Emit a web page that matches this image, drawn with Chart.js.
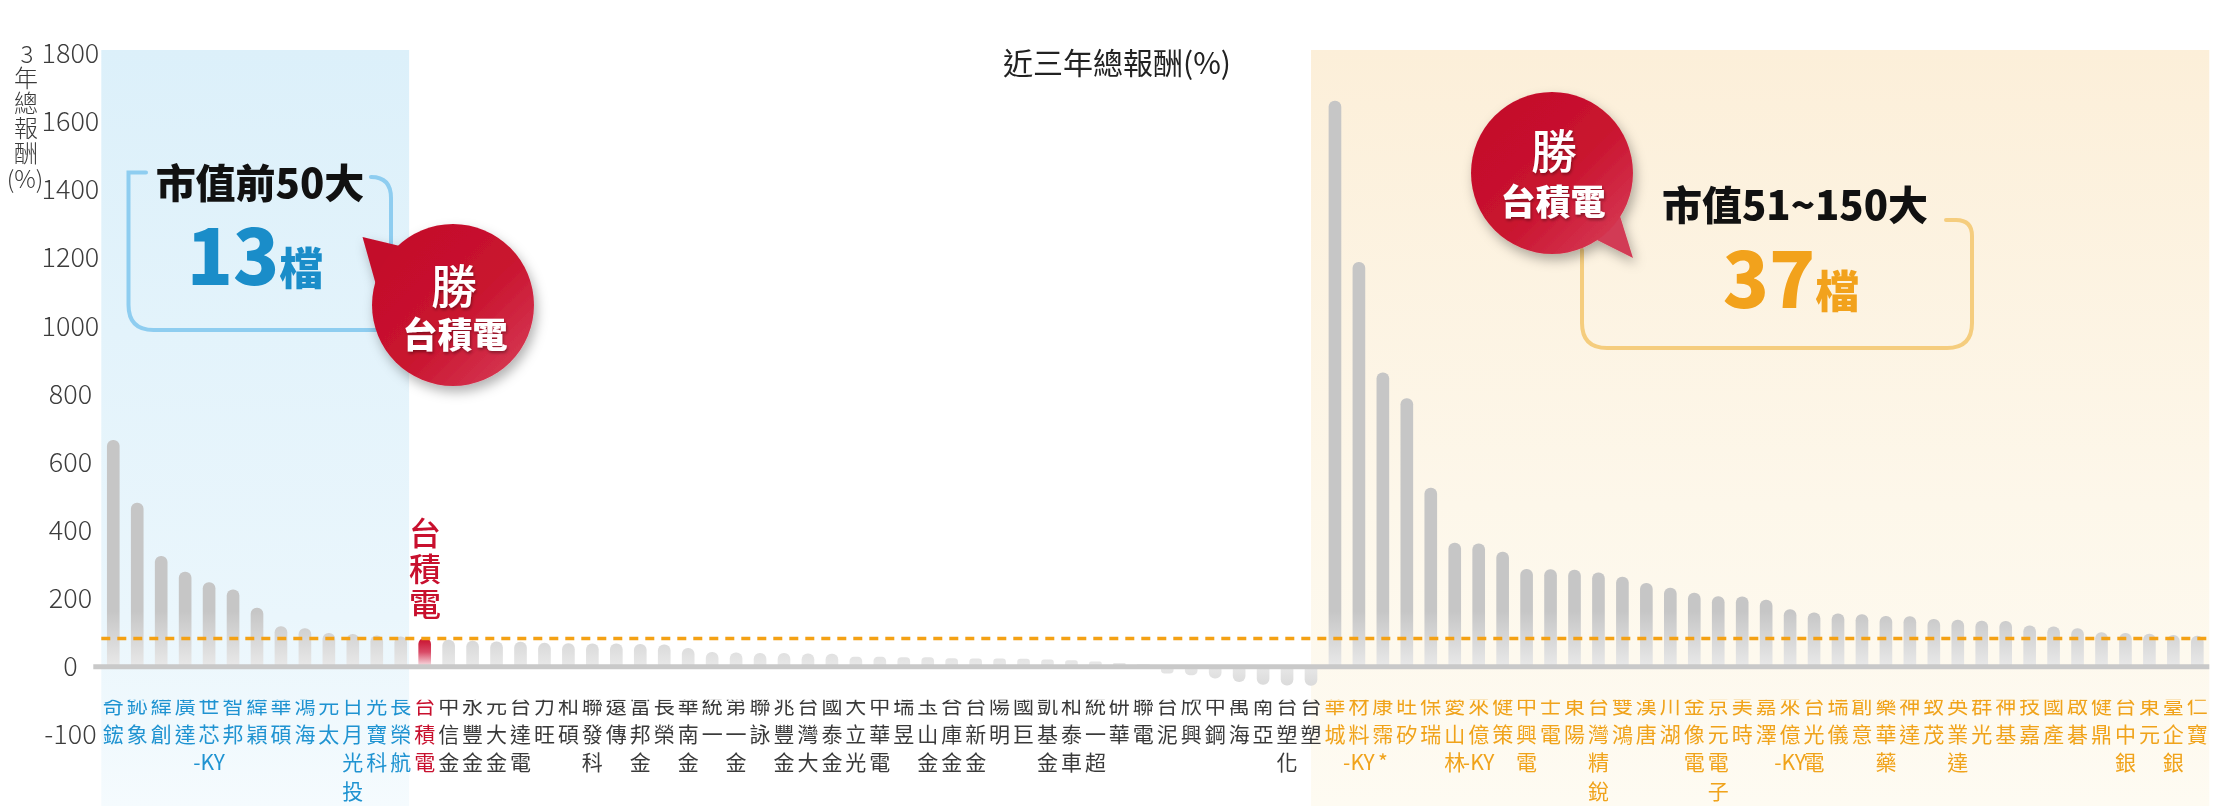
<!DOCTYPE html>
<html>
<head>
<meta charset="utf-8">
<script src="https://cdn.jsdelivr.net/npm/chart.js@4.4.1/dist/chart.umd.min.js"></script>
<style>
html,body{margin:0;padding:0;background:#fff;}
#wrap{position:relative;width:2224px;height:806px;overflow:hidden;}
#c{position:absolute;left:0;top:0;}
#ov{position:absolute;left:0;top:0;}
</style>
</head>
<body>
<div id="wrap">
<canvas id="c" width="2224" height="806"></canvas>
<svg id="ov" width="2224" height="806" viewBox="0 0 2224 806" font-family="'Noto Sans CJK TC','Noto Sans',sans-serif">
  <defs>
    <linearGradient id="rg" x1="0" y1="0" x2="1" y2="1">
      <stop offset="0" stop-color="#c20a2a"/>
      <stop offset="0.55" stop-color="#c9142f"/>
      <stop offset="1" stop-color="#d9415c"/>
    </linearGradient>
    <filter id="sh" x="-30%" y="-30%" width="160%" height="160%">
      <feDropShadow dx="3" dy="6" stdDeviation="6" flood-color="#000" flood-opacity="0.3"/>
    </filter>
    <filter id="ts" x="-20%" y="-20%" width="140%" height="140%">
      <feDropShadow dx="1" dy="2" stdDeviation="1.5" flood-color="#000" flood-opacity="0.35"/>
    </filter>
  </defs>

  <!-- y axis title -->
  <g fill="#3a3a3a" font-size="24" font-weight="300" text-anchor="middle" dominant-baseline="central">
    <text x="27" y="52">3</text>
    <text x="26" y="76">年</text>
    <text x="26" y="101">總</text>
    <text x="26" y="126">報</text>
    <text x="26" y="151">酬</text>
    <text x="25" y="177">(%)</text>
  </g>

  <!-- title -->
  <text x="1117" y="61" font-size="30" fill="#222" text-anchor="middle" dominant-baseline="central">近三年總報酬(%)</text>

  <!-- blue box -->
  <g fill="none" stroke="#8ecdf0" stroke-width="4" stroke-linecap="round">
    <path d="M146,172.5 L128.5,172.5 L128.5,305 Q128.5,330 153.5,330 L385,330"/>
    <path d="M371,177 Q391,177 391,198 L391,255"/>
  </g>
  <text x="260" y="181" font-size="40" font-weight="900" fill="#111" text-anchor="middle" dominant-baseline="central">市值前50大</text>
  <text x="255" y="285" fill="#1a8dc9" text-anchor="middle"><tspan font-size="76" font-weight="900">13</tspan><tspan font-size="44" font-weight="900">檔</tspan></text>

  <!-- bubble 1 -->
  <g filter="url(#sh)">
    <path d="M362.5,237 L404,247 L378,292 Z" fill="#c30d2c"/>
    <circle cx="453" cy="305" r="81" fill="url(#rg)"/>
  </g>
  <g fill="#fff" text-anchor="middle" dominant-baseline="central" filter="url(#ts)">
    <text x="454" y="283" font-size="46" font-weight="500">勝</text>
    <text x="455" y="332" font-size="35" font-weight="900">台積電</text>
  </g>

  <!-- orange box -->
  <g fill="none" stroke="#f5cd7e" stroke-width="4" stroke-linecap="round">
    <path d="M1582,250 L1582,323 Q1582,348 1607,348 L1947,348 Q1972,348 1972,323 L1972,236 Q1972,220 1956,220 L1946,220"/>
  </g>
  <text x="1795" y="203" font-size="40" font-weight="900" fill="#111" text-anchor="middle" dominant-baseline="central">市值51~150大</text>
  <text x="1791" y="308" fill="#f2a21c" text-anchor="middle"><tspan font-size="76" font-weight="900">37</tspan><tspan font-size="44" font-weight="900">檔</tspan></text>

  <!-- bubble 2 -->
  <g filter="url(#sh)">
    <path d="M1633,258 L1597,240 L1620,216 Z" fill="#d23a55"/>
    <circle cx="1552" cy="173" r="81" fill="url(#rg)"/>
  </g>
  <g fill="#fff" text-anchor="middle" dominant-baseline="central" filter="url(#ts)">
    <text x="1554" y="148" font-size="46" font-weight="500">勝</text>
    <text x="1553" y="199" font-size="35" font-weight="900">台積電</text>
  </g>

  <!-- TSMC vertical label -->
  <g fill="#c8102e" font-size="32" font-weight="500" text-anchor="middle" dominant-baseline="central">
    <text x="425" y="531">台</text>
    <text x="425" y="567">積</text>
    <text x="425" y="602">電</text>
  </g>
</svg>
</div>
<script>
// ---------------- DATA ----------------
// Top-50 market cap stocks that beat TSMC (blue)
const top50WinnerNames = ['奇鋐','鈊象','緯創','廣達','世芯-KY','智邦','緯穎','華碩','鴻海','元太','日月光投控','光寶科','長榮航'];
const top50WinnerReturns = [662, 478, 321, 275, 244, 223, 169, 115, 109, 95, 92, 88, 85];

// TSMC (red)
const tsmcName = '台積電';
const tsmcReturn = 80;

// Other top-50 stocks (gray)
const top50OtherNames = ['中信金','永豐金','元大金','台達電','力旺','和碩','聯發科','遠傳','富邦金','長榮','華南金','統一','第一金','聯詠','兆豐金','台灣大','國泰金','大立光','中華電','瑞昱','玉山金','合庫金','台新金','陽明','國巨','凱基金','和泰車','統一超','研華','聯電','台泥','欣興','中鋼','萬海','南亞','台塑化','台塑'];
const top50OtherReturns = [75, 72, 70, 69, 66, 65, 64, 64, 63, 61, 51, 39, 38, 36, 36, 35, 34, 25, 25, 24, 24, 21, 20, 20, 19, 17, 15, 11, 7, 3, -22, -27, -37, -47, -55, -57, -58];

// Market cap 51~150 stocks that beat TSMC (orange)
const mid100WinnerNames = ['華城','材料-KY','康霈*','旺矽','保瑞','愛山林','來億-KY','健策','中興電','士電','東陽','台灣精銳','雙鴻','漢唐','川湖','金像電','京元電子','美時','嘉澤','來億-KY','台光電','瑞儀','創意','藥華藥','神達','致茂','英業達','群光','神基','技嘉','國產','啟碁','健鼎','台中銀','東元','臺企銀','仁寶'];
const mid100WinnerReturns = [1659, 1185, 860, 785, 522, 360, 358, 334, 283, 282, 281, 273, 260, 242, 228, 213, 203, 202, 193, 165, 155, 152, 150, 145, 144, 136, 134, 131, 130, 117, 114, 109, 97, 95, 93, 89, 87];

// Y axis ticks
const yTicks = [-100, 0, 200, 400, 600, 800, 1000, 1200, 1400, 1600, 1800];

// ---------------- BUILD ----------------
const names = [...top50WinnerNames, tsmcName, ...top50OtherNames, ...mid100WinnerNames];
const returns = [...top50WinnerReturns, tsmcReturn, ...top50OtherReturns, ...mid100WinnerReturns];
const groupOf = [
  ...top50WinnerNames.map(() => 'blue'),
  'red',
  ...top50OtherNames.map(() => 'gray'),
  ...mid100WinnerNames.map(() => 'orange')
];
const TSMC_INDEX = top50WinnerNames.length;
const BLUE_END = top50WinnerNames.length - 1;
const ORANGE_START = top50WinnerNames.length + 1 + top50OtherNames.length;

const labelColors = { blue: '#1f93d1', red: '#c8102e', gray: '#3a3a3a', orange: '#f0a31b' };
const FONT = "'Noto Sans CJK TC','Noto Sans',sans-serif";

function toVertical(name) { return name.match(/-KY|./gu); }

let grayGrad = null;
function barColor(ctx) {
  const chart = ctx.chart;
  const area = chart.chartArea;
  if (!area) return '#d0d0d0';
  const y = chart.scales.y;
  const i = ctx.dataIndex;
  if (i === TSMC_INDEX) {
    const g = chart.ctx.createLinearGradient(0, y.getPixelForValue(returns[i]), 0, y.getPixelForValue(0));
    g.addColorStop(0, '#c8102e');
    g.addColorStop(0.5, '#d94a66');
    g.addColorStop(1, '#f7dde2');
    return g;
  }
  if (!grayGrad) {
    const top = y.getPixelForValue(160), bot = y.getPixelForValue(-60);
    grayGrad = chart.ctx.createLinearGradient(0, top, 0, bot);
    grayGrad.addColorStop(0, '#c6c6c6');
    grayGrad.addColorStop(160 / 220, '#e8e8e8');
    grayGrad.addColorStop(1, '#dadada');
  }
  return grayGrad;
}

const bgPlugin = {
  id: 'bgRegions',
  beforeDraw(chart) {
    const { ctx, chartArea, scales: { x } } = chart;
    const w = x.getPixelForValue(1) - x.getPixelForValue(0);
    const top = chartArea.top - 3, bottom = chart.height;
    ctx.save();
    let l = x.getPixelForValue(0) - w / 2, r = x.getPixelForValue(BLUE_END) + 0.35 * w;
    let g = ctx.createLinearGradient(0, top, 0, bottom);
    g.addColorStop(0, '#dcf0fa');
    g.addColorStop(0.75, '#eaf6fc');
    g.addColorStop(1, '#f5fbfe');
    ctx.fillStyle = g;
    ctx.fillRect(l, top, r - l, bottom - top);
    l = x.getPixelForValue(ORANGE_START) - 1.0 * w; r = chartArea.right;
    g = ctx.createLinearGradient(0, top, 0, bottom);
    g.addColorStop(0, '#fcefd9');
    g.addColorStop(0.6, '#fdf7ea');
    g.addColorStop(1, '#fefbf2');
    ctx.fillStyle = g;
    ctx.fillRect(l, top, r - l, bottom - top);
    ctx.restore();
  },
  afterDatasetsDraw(chart) {
    const { ctx, chartArea, scales: { y } } = chart;
    ctx.save();
    // zero baseline
    const y0 = y.getPixelForValue(0);
    ctx.strokeStyle = '#c9c9c9';
    ctx.lineWidth = 5;
    ctx.beginPath();
    ctx.moveTo(chartArea.left - 8, y0 + 1);
    ctx.lineTo(chartArea.right, y0 + 1);
    ctx.stroke();
    // TSMC reference dashed line
    const yt = y.getPixelForValue(returns[TSMC_INDEX]);
    ctx.strokeStyle = '#f4a114';
    ctx.lineWidth = 3.5;
    ctx.setLineDash([9, 7]);
    ctx.beginPath();
    ctx.moveTo(chartArea.left, yt);
    ctx.lineTo(chartArea.right, yt);
    ctx.stroke();
    ctx.restore();
  }
};

new Chart(document.getElementById('c'), {
  type: 'bar',
  data: {
    labels: names.map(toVertical),
    datasets: [{
      data: returns,
      backgroundColor: barColor,
      barThickness: 12,
      borderRadius: 6,
      borderSkipped: 'start'
    }]
  },
  options: {
    responsive: false,
    animation: false,
    devicePixelRatio: 1,
    layout: { padding: { left: 40, right: 14.7, top: 53, bottom: 0 } },
    plugins: { legend: { display: false }, tooltip: { enabled: false }, title: { display: false } },
    scales: {
      x: {
        grid: { display: false, drawTicks: false },
        border: { display: false },
        ticks: {
          autoSkip: false, maxRotation: 0, minRotation: 0, padding: -9,
          font: { family: FONT, size: 21, lineHeight: 1.36 },
          color: (c) => labelColors[groupOf[c.index]] || '#3a3a3a'
        },
        afterFit: (s) => { s.height = 106.3; }
      },
      y: {
        min: -100, max: 1800,
        grid: { display: false, drawTicks: false },
        border: { display: false },
        afterBuildTicks: (s) => { s.ticks = yTicks.map(v => ({ value: v })); },
        afterFit: (s) => { s.width = 61.3; },
        ticks: {
          autoSkip: false,
          crossAlign: 'center', padding: 2, color: '#3c3c3c',
          font: { family: FONT, size: 27, weight: '300', lineHeight: 1.25 },
          callback: (v) => v === -100 ? ['', '', '-100'] : String(v)
        }
      }
    }
  },
  plugins: [bgPlugin]
});
</script>
</body>
</html>
